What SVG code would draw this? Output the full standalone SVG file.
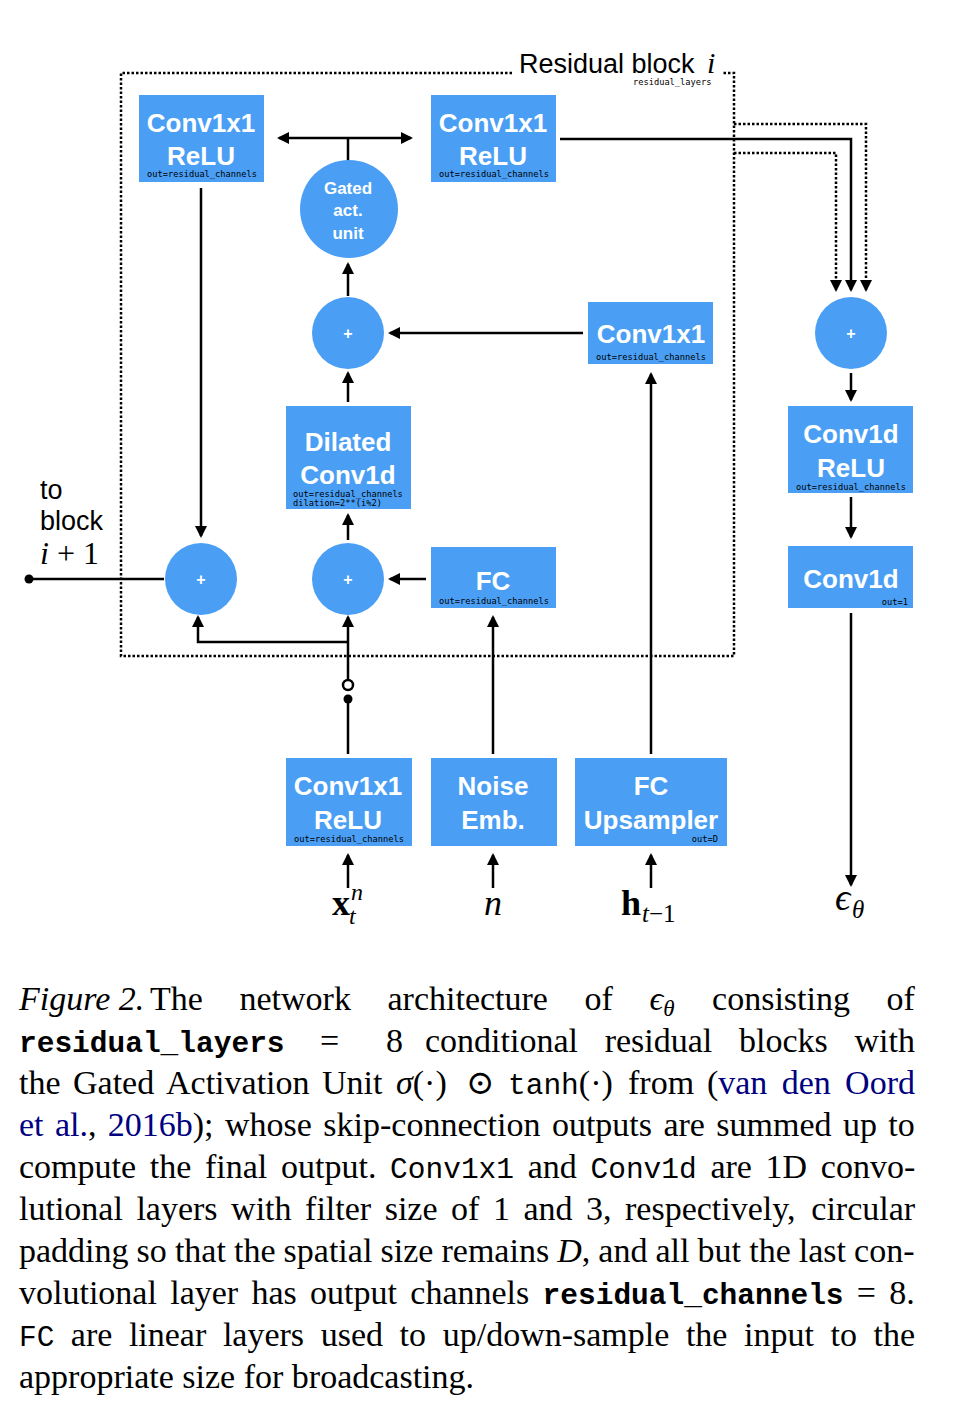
<svg xmlns="http://www.w3.org/2000/svg" width="960" height="1422" viewBox="0 0 960 1422">
<style>
.box{fill:#4A9FF5}
.circ{fill:#4A9FF5}
.bt{font-family:"Liberation Sans",Arial,sans-serif;font-weight:bold;font-size:26px;fill:#fff;text-anchor:middle}
.gt{font-family:"Liberation Sans",Arial,sans-serif;font-weight:bold;font-size:17px;fill:#fff;text-anchor:middle}
.pl{font-family:"Liberation Sans",Arial,sans-serif;font-weight:bold;font-size:16px;fill:#fff;text-anchor:middle}
.sm{font-family:"DejaVu Sans Mono","Liberation Mono",monospace;font-size:8.7px;fill:#000;text-anchor:middle}
.sml{font-family:"DejaVu Sans Mono","Liberation Mono",monospace;font-size:8.7px;fill:#000}
.ln{stroke:#000;stroke-width:2.5;fill:none}
.dt{stroke:#000;stroke-width:2.5;fill:none;stroke-dasharray:2.5 2}
.sans{font-family:"Liberation Sans",Arial,sans-serif;font-size:27px;fill:#000}
.math{font-family:"Liberation Serif","DejaVu Serif",serif;fill:#000}
.cap{font-family:"Liberation Serif","DejaVu Serif",serif;font-size:34px;fill:#000}
.mono{font-family:"Liberation Mono",monospace;font-size:29.5px}
.lnk{fill:#000080}
</style>
<defs>
<marker id="ah" viewBox="0 0 12 12" refX="10" refY="6" markerWidth="12" markerHeight="12" markerUnits="userSpaceOnUse" orient="auto-start-reverse"><path d="M0,0 L12,6 L0,12 z" fill="#000"/></marker>
</defs>

<g id="residual-block-frame">
<path class="dt" d="M512,73 H121 V656 H734 V73 H722"/>
<text class="sans" x="519" y="73">Residual block <tspan class="math" font-style="italic" font-size="30px" x="707">i</tspan></text>
<text class="sml" x="633" y="85">residual_layers</text>
</g>

<g id="connectors">
<path class="ln" d="M279,138 L411,138" marker-start="url(#ah)" marker-end="url(#ah)"/>
<path class="ln" d="M348,138 L348,161"/>
<path class="ln" d="M201,188 L201,536" marker-end="url(#ah)"/>
<path class="ln" d="M348,296 L348,264" marker-end="url(#ah)"/>
<path class="ln" d="M583,333 L390,333" marker-end="url(#ah)"/>
<path class="ln" d="M348,402 L348,373" marker-end="url(#ah)"/>
<path class="ln" d="M348,540 L348,515" marker-end="url(#ah)"/>
<path class="ln" d="M426,579 L390,579" marker-end="url(#ah)"/>
<path class="ln" d="M164,579 L29,579"/>
<circle cx="29" cy="579" r="4.5" fill="#000"/>
<path class="ln" d="M348,754 L348,699"/>
<circle cx="348" cy="699" r="4.5" fill="#000"/>
<circle cx="348" cy="685" r="5" fill="#fff" stroke="#000" stroke-width="2.5"/>
<path class="ln" d="M348,680 L348,617" marker-end="url(#ah)"/>
<path class="ln" d="M348,642 L198,642 L198,617" marker-end="url(#ah)"/>
<path class="ln" d="M493,754 L493,617" marker-end="url(#ah)"/>
<path class="ln" d="M651,754 L651,374" marker-end="url(#ah)"/>
<path class="ln" d="M348,888 L348,855" marker-end="url(#ah)"/>
<path class="ln" d="M493,888 L493,855" marker-end="url(#ah)"/>
<path class="ln" d="M651,888 L651,855" marker-end="url(#ah)"/>
<path class="ln" d="M851,373 L851,400" marker-end="url(#ah)"/>
<path class="ln" d="M851,497 L851,537" marker-end="url(#ah)"/>
<path class="ln" d="M851,613 L851,885" marker-end="url(#ah)"/>
<path class="ln" d="M560,139 L851,139 L851,290" marker-end="url(#ah)"/>
<path class="dt" d="M734,124 L866,124 L866,290" marker-end="url(#ah)"/>
<path class="dt" d="M734,153 L836,153 L836,290" marker-end="url(#ah)"/>
</g>

<g id="conv-skip-top-left">
<rect class="box" x="139" y="95" width="125" height="87"/>
<text class="bt" x="201" y="132">Conv1x1</text>
<text class="bt" x="201" y="165">ReLU</text>
<text class="sm" x="202" y="177">out=residual_channels</text>
</g>
<g id="conv-top-right">
<rect class="box" x="431" y="95" width="125" height="87"/>
<text class="bt" x="493" y="132">Conv1x1</text>
<text class="bt" x="493" y="165">ReLU</text>
<text class="sm" x="494" y="177">out=residual_channels</text>
</g>
<g id="gated-unit">
<circle class="circ" cx="349" cy="209" r="49"/>
<text class="gt" x="348" y="194">Gated</text>
<text class="gt" x="348" y="216">act.</text>
<text class="gt" x="348" y="239">unit</text>
</g>
<g id="sum-mid">
<circle class="circ" cx="348" cy="333" r="36"/>
<text class="pl" x="348" y="339">+</text>
</g>
<g id="conv-cond">
<rect class="box" x="588" y="302" width="125" height="62"/>
<text class="bt" x="651" y="343">Conv1x1</text>
<text class="sm" x="651" y="360">out=residual_channels</text>
</g>
<g id="dilated-conv">
<rect class="box" x="286" y="406" width="125" height="103"/>
<text class="bt" x="348" y="451">Dilated</text>
<text class="bt" x="348" y="484">Conv1d</text>
<text class="sml" x="293" y="497">out=residual_channels</text>
<text class="sml" x="293" y="506">dilation=2**(i%2)</text>
</g>
<g id="sum-left">
<circle class="circ" cx="201" cy="579" r="36"/>
<text class="pl" x="201" y="585">+</text>
</g>
<g id="sum-input">
<circle class="circ" cx="348" cy="579" r="36"/>
<text class="pl" x="348" y="585">+</text>
</g>
<g id="fc">
<rect class="box" x="431" y="547" width="125" height="61"/>
<text class="bt" x="493" y="590">FC</text>
<text class="sm" x="494" y="604">out=residual_channels</text>
</g>
<g id="sum-skip">
<circle class="circ" cx="851" cy="333" r="36"/>
<text class="pl" x="851" y="339">+</text>
</g>
<g id="conv1d-relu">
<rect class="box" x="788" y="406" width="125" height="87"/>
<text class="bt" x="851" y="443">Conv1d</text>
<text class="bt" x="851" y="477">ReLU</text>
<text class="sm" x="851" y="490">out=residual_channels</text>
</g>
<g id="conv1d-out">
<rect class="box" x="788" y="546" width="125" height="62"/>
<text class="bt" x="851" y="588">Conv1d</text>
<text class="sml" x="908" y="605" text-anchor="end">out=1</text>
</g>
<g id="conv-input">
<rect class="box" x="286" y="758" width="126" height="88"/>
<text class="bt" x="348" y="795">Conv1x1</text>
<text class="bt" x="348" y="829">ReLU</text>
<text class="sm" x="349" y="842">out=residual_channels</text>
</g>
<g id="noise-emb">
<rect class="box" x="431" y="758" width="126" height="88"/>
<text class="bt" x="493" y="795">Noise</text>
<text class="bt" x="493" y="829">Emb.</text>
</g>
<g id="fc-upsampler">
<rect class="box" x="575" y="758" width="152" height="88"/>
<text class="bt" x="651" y="795">FC</text>
<text class="bt" x="651" y="829">Upsampler</text>
<text class="sml" x="718" y="842" text-anchor="end">out=D</text>
</g>

<g id="labels">
<text class="sans" x="40" y="499">to</text>
<text class="sans" x="40" y="530">block</text>
<text class="math" x="40" y="564" font-size="32px"><tspan font-style="italic">i</tspan> + 1</text>
<text class="math" x="332" y="915" font-size="36px" font-weight="bold">x</text>
<text class="math" x="351" y="900" font-size="24px" font-style="italic">n</text>
<text class="math" x="349" y="924" font-size="24px" font-style="italic">t</text>
<text class="math" x="493" y="915" font-size="36px" font-style="italic" text-anchor="middle">n</text>
<text class="math" x="621" y="915" font-size="36px" font-weight="bold">h</text>
<text class="math" x="642" y="922" font-size="25px"><tspan font-style="italic">t</tspan>−1</text>
<text class="math" x="835" y="910" font-size="38px" font-style="italic">ϵ</text>
<text class="math" x="852" y="918" font-size="25px" font-style="italic">θ</text>
</g>

<g id="caption">
<text class="cap" y="1010"><tspan x="19" font-style="italic">Figure 2.</tspan><tspan x="150">The</tspan><tspan x="239.5">network</tspan><tspan x="387.5">architecture</tspan><tspan x="584.6">of</tspan><tspan x="649.5" font-style="italic">ϵ</tspan><tspan font-size="23px" font-style="italic" dy="6">θ</tspan><tspan x="712.1" dy="-6">consisting</tspan><tspan x="886.6">of</tspan></text>
<text class="cap" y="1052"><tspan x="19" class="mono" font-weight="bold">residual_layers</tspan><tspan x="320">=</tspan><tspan x="386">8</tspan><tspan x="425">conditional</tspan><tspan x="604.7">residual</tspan><tspan x="739">blocks</tspan><tspan x="854.5">with</tspan></text>
<text class="cap" y="1094"><tspan x="19">the</tspan><tspan x="73">Gated</tspan><tspan x="166">Activation</tspan><tspan x="322">Unit</tspan><tspan x="396"><tspan font-style="italic">σ</tspan>(·)</tspan><tspan x="466">⊙</tspan><tspan x="508"><tspan class="mono">tanh</tspan>(·)</tspan><tspan x="628">from</tspan><tspan x="706.9">(<tspan class="lnk">van</tspan></tspan><tspan x="781.7" class="lnk">den</tspan><tspan x="845.1" class="lnk">Oord</tspan></text>
<text class="cap" y="1136"><tspan x="19" class="lnk">et</tspan><tspan x="54.9"><tspan class="lnk">al.</tspan>,</tspan><tspan x="107.8"><tspan class="lnk">2016b</tspan>);</tspan><tspan x="225">whose</tspan><tspan x="323.3">skip-connection</tspan><tspan x="551.9">outputs</tspan><tspan x="663.4">are</tspan><tspan x="716.3">summed</tspan><tspan x="842.9">up</tspan><tspan x="888.3">to</tspan></text>
<text class="cap" y="1178"><tspan x="19">compute</tspan><tspan x="149.8">the</tspan><tspan x="205">final</tspan><tspan x="281">output.</tspan><tspan x="390.1" class="mono">Conv1x1</tspan><tspan x="527.7">and</tspan><tspan x="590.5" class="mono">Conv1d</tspan><tspan x="710.4">are</tspan><tspan x="765.6">1D</tspan><tspan x="820.8">convo-</tspan></text>
<text class="cap" y="1220"><tspan x="19">lutional</tspan><tspan x="136.4">layers</tspan><tspan x="231.1">with</tspan><tspan x="305.1">filter</tspan><tspan x="384.7">size</tspan><tspan x="451.1">of</tspan><tspan x="492.9">1</tspan><tspan x="523.4">and</tspan><tspan x="586">3,</tspan><tspan x="625">respectively,</tspan><tspan x="811.3">circular</tspan></text>
<text class="cap" y="1262"><tspan x="19">padding</tspan><tspan x="136.6">so</tspan><tspan x="174.9">that</tspan><tspan x="234">the</tspan><tspan x="283.6">spatial</tspan><tspan x="380.5">size</tspan><tspan x="441.5">remains</tspan><tspan x="557.2"><tspan font-style="italic">D</tspan>,</tspan><tspan x="598.3">and</tspan><tspan x="655.5">all</tspan><tspan x="697.6">but</tspan><tspan x="749.2">the</tspan><tspan x="798.8">last</tspan><tspan x="854.1">con-</tspan></text>
<text class="cap" y="1304"><tspan x="19">volutional</tspan><tspan x="170.2">layer</tspan><tspan x="251.5">has</tspan><tspan x="310.1">output</tspan><tspan x="410.3">channels</tspan><tspan x="542.6" class="mono" font-weight="bold">residual_channels</tspan><tspan x="856.8">=</tspan><tspan x="889.3">8.</tspan></text>
<text class="cap" y="1346"><tspan x="19" class="mono">FC</tspan><tspan x="70.8">are</tspan><tspan x="128.9">linear</tspan><tspan x="222.9">layers</tspan><tspan x="320.7">used</tspan><tspan x="399.6">to</tspan><tspan x="442.7">up/down-sample</tspan><tspan x="685.9">the</tspan><tspan x="744">input</tspan><tspan x="830.5">to</tspan><tspan x="873.6">the</tspan></text>
<text class="cap" x="19" y="1388">appropriate size for broadcasting.</text>
</g>
</svg>
